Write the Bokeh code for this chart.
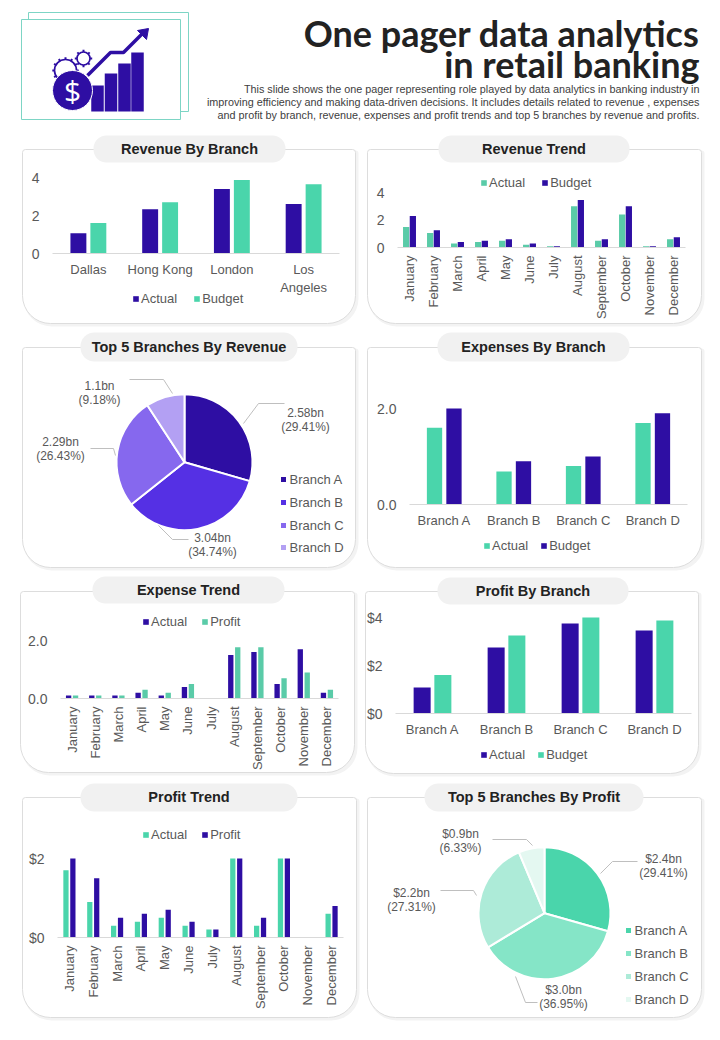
import numpy as np
from bokeh.plotting import figure
from bokeh.layouts import column, row
from bokeh.models import (BoxAnnotation, ColumnDataSource, FixedTicker, Label, Legend,
                          LegendItem, NumeralTickFormatter, Range1d)
from bokeh.embed import file_html
from bokeh.resources import INLINE

# ---------- data ----------
months = ["January", "February", "March", "April", "May", "June", "July", "August",
          "September", "October", "November", "December"]
cities = ["Dallas", "Hong Kong", "London", "Los\nAngeles"]
branches = ["Branch A", "Branch B", "Branch C", "Branch D"]

rev_branch_actual = [1.07, 2.33, 3.4, 2.6]
rev_branch_budget = [1.6, 2.7, 3.87, 3.65]
rev_trend_actual = [1.5, 1.05, 0.3, 0.4, 0.5, 0.2, 0.1, 3.0, 0.5, 2.4, 0.1, 0.6]
rev_trend_budget = [2.3, 1.25, 0.4, 0.5, 0.6, 0.3, 0.1, 3.45, 0.6, 3.0, 0.1, 0.75]
exp_branch_actual = [1.6, 0.69, 0.8, 1.7]
exp_branch_budget = [2.0, 0.9, 1.0, 1.9]
exp_trend_actual = [0.1, 0.1, 0.1, 0.2, 0.1, 0.4, 0.0, 1.5, 1.6, 0.5, 1.7, 0.2]
exp_trend_profit = [0.1, 0.1, 0.1, 0.3, 0.2, 0.5, 0.0, 1.77, 1.77, 0.7, 0.9, 0.3]
prof_branch_actual = [1.08, 2.75, 3.75, 3.46]
prof_branch_budget = [1.6, 3.25, 4.0, 3.88]
prof_trend_actual = [1.7, 0.9, 0.3, 0.4, 0.5, 0.3, 0.2, 2.0, 0.3, 2.0, 0.0, 0.6]
prof_trend_profit = [2.0, 1.5, 0.5, 0.6, 0.7, 0.4, 0.2, 2.0, 0.5, 2.0, 0.0, 0.8]

rev_pie_pct = [29.41, 34.74, 26.43, 9.18]
rev_pie_val = ["2.58bn", "3.04bn", "2.29bn", "1.1bn"]
prof_pie_pct = [29.41, 36.95, 27.31, 6.33]
prof_pie_val = ["$2.4bn", "$3.0bn", "$2.2bn", "$0.9bn"]

title_lines = ["One pager data analytics", "in retail banking"]
sub_lines = ["This slide shows the one pager representing role played by data analytics in banking industry in",
             "improving efficiency and making data-driven decisions. It includes details related to revenue , expenses",
             "and profit by branch, revenue, expenses and profit trends and top 5 branches by revenue and profits."]

# ---------- style / layout ----------
INDIGO = "#2E0EA3"
TEAL = "#4AD5AB"
TEAL2 = "#5ACBA8"
TXT = "#595959"
FONT = "Liberation Sans"
COLS = [(0, 361), (361, 359)]
ROWS = {"h": (0, 130), 1: (130, 200), 2: (330, 245), 3: (575, 206), 4: (781, 249)}


def add_page(p, fl, ft, fr, fb):
    p.extra_x_ranges = {"page": Range1d(fl, fr)}
    p.extra_y_ranges = {"page": Range1d(fb, ft)}


def box(p, l, t, r, b, level="underlay", **kw):
    p.add_layout(BoxAnnotation(left=l, right=r, top=t, bottom=b, x_range_name="page", y_range_name="page",
                               level=level, **kw))


def txt(p, x, y, s, size="12px", color=TXT, align="center", style="normal", font=FONT):
    p.add_layout(Label(x=x, y=y, text=s, x_range_name="page", y_range_name="page", text_align=align,
                       text_baseline="middle", text_font=font, text_font_size=size, text_color=color,
                       text_font_style=style))


def card(p, title, c, pill):
    l, t, r, b = c
    box(p, l + 1, t + 1, r + 3, b + 3, fill_color="#F3F3F3", fill_alpha=1, line_color=None,
        border_radius=(3, 3, 28, 28))
    box(p, l, t, r, b, fill_color="#FFFFFF", fill_alpha=1, line_color="#DDDDDD", line_width=1,
        line_alpha=1, border_radius=(3, 3, 28, 28))
    pl, pt, pr, pb = pill
    box(p, pl, pt, pr, pb, fill_color="#F1F1F1", fill_alpha=1, line_color=None, border_radius=(pb - pt) // 2)
    txt(p, (pl + pr) / 2, (pt + pb) / 2 - 0.5, title, size="14.5px", color="#222222", style="bold")


def bar_chart(col, rw, title, c, pill, frame, factors, s1, s2, names, colors, ymax, ticks, fmt,
              width, off, legend_xy, spacing, rotate):
    cx, w = COLS[col]
    ry, h = ROWS[rw]
    fl, ft, fr, fb = frame
    n = len(factors)
    # the plot area fills the figure; the axes sit at fixed data locations inside it
    xu = (fr - fl) / n
    yu = (fb - ft) / ymax
    p = figure(width=w, height=h, output_backend="svg", toolbar_location=None,
               x_range=Range1d(-0.5 - (fl - cx) / xu, n - 0.5 + (cx + w - fr) / xu),
               y_range=Range1d(-(ry + h - fb) / yu, ymax + (ft - ry) / yu),
               min_border=0)
    p.frame_align = False
    p.outline_line_color = None
    p.grid.visible = False
    add_page(p, cx, ry, cx + w, ry + h)
    card(p, title, c, pill)
    idx = np.arange(n)
    src = ColumnDataSource(dict(x1=idx - off, x2=idx + off, a=s1, b=s2))
    r1 = p.vbar(x="x1", top="a", width=width, source=src, color=colors[0], line_color=None)
    r2 = p.vbar(x="x2", top="b", width=width, source=src, color=colors[1], line_color=None)
    xa = p.xaxis[0]
    xa.fixed_location = 0
    xa.bounds = (-0.5, n - 0.5)
    xa.ticker = FixedTicker(ticks=list(range(n)))
    xa.major_label_overrides = {i: s for i, s in enumerate(factors)}
    xa.axis_line_color = "#D9D9D9"
    xa.major_tick_line_color = None
    xa.minor_tick_line_color = None
    xa.major_tick_out = 0
    xa.major_tick_in = 0
    xa.major_label_text_font = FONT
    xa.major_label_text_font_size = "13px"
    xa.major_label_text_color = TXT
    xa.major_label_standoff = 8
    if rotate:
        xa.major_label_orientation = np.pi / 2
    ya = p.yaxis[0]
    ya.fixed_location = -0.5
    ya.bounds = (0, ymax)
    ya.axis_line_color = None
    ya.major_tick_line_color = None
    ya.minor_tick_line_color = None
    ya.major_tick_out = 0
    ya.major_tick_in = 0
    ya.ticker = FixedTicker(ticks=ticks)
    ya.formatter = NumeralTickFormatter(format=fmt)
    ya.major_label_text_font = FONT
    ya.major_label_text_font_size = "14px"
    ya.major_label_text_color = TXT
    ya.major_label_standoff = 13
    lx, ly = legend_xy
    leg = Legend(items=[LegendItem(label=names[0], renderers=[r1]), LegendItem(label=names[1], renderers=[r2])],
                 location=(lx - cx, ry + h - ly - 7), orientation="horizontal", border_line_color=None,
                 background_fill_alpha=0, padding=0, margin=0, spacing=spacing, glyph_width=7, glyph_height=7,
                 label_standoff=2, label_text_font=FONT, label_text_font_size="13px", label_text_color=TXT,
                 label_height=14)
    p.add_layout(leg)
    return p


def pie_chart(col, rw, title, c, pill, centre, radius, pct, vals, colors, label_xy, leaders, leg_x, leg_ys):
    cx, w = COLS[col]
    ry, h = ROWS[rw]
    p = figure(width=w, height=h, output_backend="svg", toolbar_location=None,
               x_range=Range1d(cx, cx + w), y_range=Range1d(ry + h, ry),
               x_axis_type=None, y_axis_type=None, min_border=0)
    p.frame_align = False
    p.outline_line_color = None
    p.grid.visible = False
    add_page(p, cx, ry, cx + w, ry + h)
    card(p, title, c, pill)
    frac = np.array(pct) / np.sum(pct) * 2 * np.pi
    cum = np.concatenate([[0], np.cumsum(frac)])
    src = ColumnDataSource(dict(start=np.pi / 2 - cum[1:], end=np.pi / 2 - cum[:-1], color=colors))
    r = p.wedge(x=centre[0], y=centre[1], radius=radius, radius_units="screen", start_angle="start",
                end_angle="end", color="color", line_color="#FFFFFF", line_width=2, source=src)
    for lx, ly in leaders:
        p.line(lx, ly, line_color="#BFBFBF", line_width=1)
    for (x, y), v, q in zip(label_xy, vals, pct):
        txt(p, x, y, v)
        txt(p, x, y + 14.5, "(%.2f%%)" % q)
    for name, color, yy in zip(branches, colors, leg_ys):
        p.scatter([leg_x], [yy], marker="square", size=5, color=color, line_color=None)
        txt(p, leg_x + 6, yy, name, size="13px", align="left")
    return p


# ---------- header ----------
hx, hw = 0, 720
hy, hh = ROWS["h"]
head = figure(width=hw, height=hh, output_backend="svg", toolbar_location=None,
              x_range=Range1d(hx, hx + hw), y_range=Range1d(hy + hh, hy),
              x_axis_type=None, y_axis_type=None, min_border=0)
head.frame_align = False
head.outline_line_color = None
head.grid.visible = False
add_page(head, hx, hy, hx + hw, hy + hh)
head.quad(left=[28], right=[188], top=[12], bottom=[111], fill_color="#FFFFFF", line_color="#7DD5C5", line_width=1)
head.quad(left=[21], right=[180], top=[19], bottom=[119], fill_color="#FFFFFF", line_color="#7DD5C5", line_width=1)
for gx, gy, gr, teeth in [(83, 58, 6.5, 8), (65, 70, 11, 12)]:
    ang = np.linspace(0, 2 * np.pi, teeth, endpoint=False)
    head.segment(gx + gr * np.cos(ang), gy + gr * np.sin(ang), gx + (gr + 2.2) * np.cos(ang),
                 gy + (gr + 2.2) * np.sin(ang), line_color=INDIGO, line_width=2)
    head.circle([gx], [gy], radius=gr, fill_color="#FFFFFF", line_color=INDIGO, line_width=1.7)
head.vbar(x=[97, 110.5, 124, 137], width=12.5, top=[85, 73, 63, 52], bottom=111, color=INDIGO, line_color=None)
head.line([87, 110, 123, 142], [75, 52, 52, 33], line_color=INDIGO, line_width=3.5)
head.patch([137, 148, 146], [30, 28, 39], color=INDIGO, line_color=INDIGO)
head.circle([72], [90], radius=20, fill_color=INDIGO, line_color="#FFFFFF", line_width=1)
txt(head, 72, 90, "$", size="30px", color="#FFFFFF", font="Open Sans")
txt(head, 699, 32, title_lines[0], size="36px", color="#222222", align="right", style="bold", font="Lato")
txt(head, 699, 63, title_lines[1], size="36px", color="#222222", align="right", style="bold", font="Lato")
for yy, s in zip([88, 101, 114], sub_lines):
    txt(head, 699, yy, s, size="10.8px", color="#404040", align="right")

# ---------- panels ----------
a = bar_chart(0, 1, "Revenue By Branch", (22, 149, 355, 323), (93, 135, 285, 162), (52, 177, 339, 253), cities,
              rev_branch_actual, rev_branch_budget, ["Actual", "Budget"], [INDIGO, TEAL], 4, [0, 2, 4], "0",
              0.222, 0.139, (132, 299), 16, False)
b = bar_chart(1, 1, "Revenue Trend", (367, 149, 701, 323), (438, 135, 629, 162), (397, 192, 685, 247), months,
              rev_trend_actual, rev_trend_budget, ["Actual", "Budget"], [TEAL2, INDIGO], 4, [0, 2, 4], "0",
              0.26, 0.14, (480, 183), 16, True)
c = pie_chart(0, 2, "Top 5 Branches By Revenue", (22, 347, 355, 567), (80, 332, 297, 361), (184, 461.7), 68,
              rev_pie_pct, rev_pie_val, [INDIGO, "#5530E4", "#8668EE", "#B3A0F3"],
              [(305, 412), (212, 537), (60, 441), (99, 385)],
              [([243, 258, 284], [423, 403, 403]), ([158, 172, 188], [525, 539, 539]),
               ([90, 113, 115], [448, 448, 455]), ([172, 163, 129], [393, 379, 379])],
              283, [479, 502, 525, 547])
d = bar_chart(1, 2, "Expenses By Branch", (367, 347, 701, 567), (437, 332, 629, 361), (409, 408, 687, 504), branches,
              exp_branch_actual, exp_branch_budget, ["Actual", "Budget"], [TEAL, INDIGO], 2, [0, 2], "0.0",
              0.22, 0.14, (483, 546), 12, False)
e = bar_chart(0, 3, "Expense Trend", (20, 591, 354, 772), (92, 576, 284, 603), (60, 640, 338, 698), months,
              exp_trend_actual, exp_trend_profit, ["Actual", "Profit"], [INDIGO, TEAL2], 2, [0, 2], "0.0",
              0.23, 0.15, (142, 622), 14, True)
f = bar_chart(1, 3, "Profit By Branch", (365, 591, 698, 773), (437, 577, 628, 604), (395, 617, 691, 713), branches,
              prof_branch_actual, prof_branch_budget, ["Actual", "Budget"], [INDIGO, TEAL], 4, [0, 2, 4], "$0",
              0.23, 0.14, (480, 755), 12, False)
g = bar_chart(0, 4, "Profit Trend", (22, 797, 356, 1017), (80, 783, 297, 811), (57, 858, 343, 937), months,
              prof_trend_actual, prof_trend_profit, ["Actual", "Profit"], [TEAL, INDIGO], 2, [0, 2], "$0",
              0.22, 0.145, (142, 835), 14, True)
h = pie_chart(1, 4, "Top 5 Branches By Profit", (367, 797, 701, 1017), (424, 783, 643, 811), (544, 912.7), 66,
              prof_pie_pct, prof_pie_val, [TEAL, "#85E5C7", "#ADEBD8", "#E4F8F1"],
              [(663, 858), (563, 989), (411, 892), (460, 833)],
              [([600, 612, 637], [873, 861, 861]), ([515, 525, 537], [976, 1002, 1002]),
               ([440, 473, 476], [890, 890, 895]), ([532, 526, 492], [845, 839, 839])],
              628, [930, 953, 976, 999])

page = column(head, row(a, b, spacing=0), row(c, d, spacing=0), row(e, f, spacing=0), row(g, h, spacing=0), spacing=0)
open("out.html", "w").write(file_html(page, INLINE))
